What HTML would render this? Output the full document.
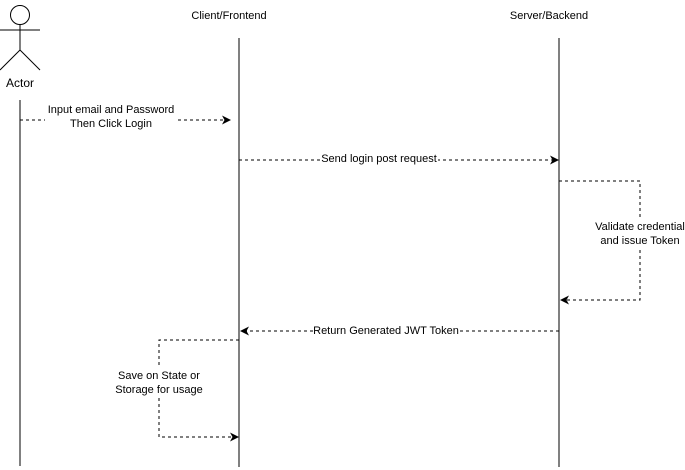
<!DOCTYPE html>
<html><head><style>body{margin:0;background:#fff}svg{display:block}text{font-family:"Liberation Sans",Arial,sans-serif;font-size:11px;fill:#000}</style></head><body>
<svg width="685" height="470" viewBox="0 0 685 470">
<defs><marker id="a" markerWidth="10" markerHeight="10" refX="8" refY="4.5" orient="auto" markerUnits="userSpaceOnUse"><path d="M0,0 L9,4.5 L0,9 L2.5,4.5 Z" fill="#000"/></marker></defs>
<g stroke="#000" fill="none">
<circle cx="20" cy="15" r="9.5"/>
<line x1="20" y1="24.5" x2="20" y2="50"/>
<line x1="0" y1="30" x2="40" y2="30"/>
<line x1="20" y1="50" x2="0" y2="70"/>
<line x1="20" y1="50" x2="40" y2="70"/>
<line x1="20" y1="100" x2="20" y2="466"/>
<line x1="239" y1="38" x2="239" y2="467"/>
<line x1="559" y1="38" x2="559" y2="467"/>
<g stroke-dasharray="3,3">
<path d="M20,120 H45 M178,120 H230" marker-end="url(#a)"/>
<path d="M239,160 H558" marker-end="url(#a)"/>
<path d="M559,181 H640 V300 H561" marker-end="url(#a)"/>
<path d="M559,331 H241" marker-end="url(#a)"/>
<path d="M239,340 H159 V437 H238" marker-end="url(#a)"/>
</g></g>
<rect x="46" y="102" width="130" height="30" fill="#fff"/>
<rect x="320" y="153" width="118" height="12" fill="#fff"/>
<rect x="313" y="325" width="147" height="12" fill="#fff"/>
<rect x="594" y="219" width="92" height="30" fill="#fff"/>
<rect x="114" y="368" width="90" height="30" fill="#fff"/>
<text x="20" y="87" text-anchor="middle" style="font-size:12px">Actor</text>
<text x="229" y="19" text-anchor="middle">Client/Frontend</text>
<text x="549" y="19" text-anchor="middle">Server/Backend</text>
<text x="111" y="113" text-anchor="middle">Input email and Password</text>
<text x="111" y="127" text-anchor="middle">Then Click Login</text>
<text x="379" y="162" text-anchor="middle">Send login post request</text>
<text x="640" y="230" text-anchor="middle">Validate credential</text>
<text x="640" y="244" text-anchor="middle">and issue Token</text>
<text x="386" y="334" text-anchor="middle">Return Generated JWT Token</text>
<text x="159" y="379" text-anchor="middle">Save on State or</text>
<text x="159" y="393" text-anchor="middle">Storage for usage</text>
</svg>
</body></html>
